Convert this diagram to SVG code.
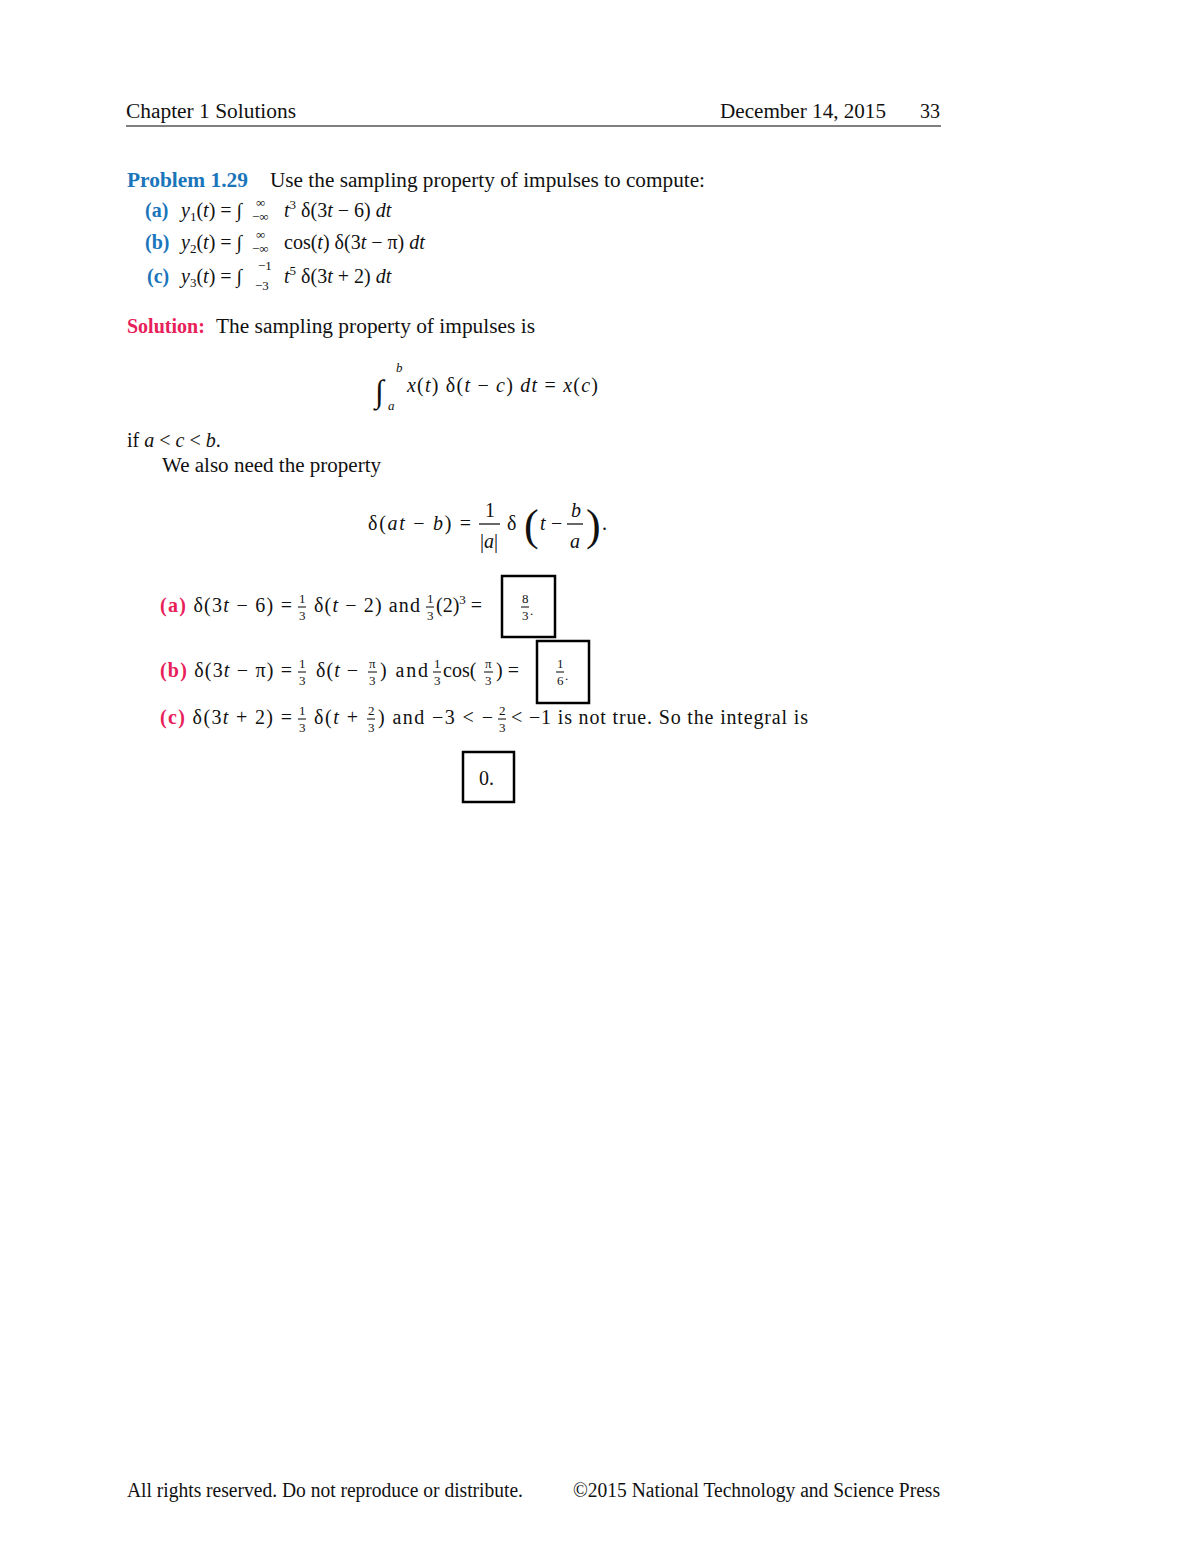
<svg xmlns="http://www.w3.org/2000/svg" width="1200" height="1553" viewBox="0 0 1200 1553">
<style>
text{font-family:"Liberation Serif","DejaVu Serif",serif;font-size:20px;fill:#111}
.b{fill:#1a75bb;font-weight:bold}
.r{fill:#e8205a;font-weight:bold}
.i{font-style:italic}
.s{font-size:13px}
.box{fill:none;stroke:#000;stroke-width:2.5}
.f{stroke:#000;stroke-width:1}
</style>
<rect width="1200" height="1553" fill="#fff"/>
<text x="126" y="118" textLength="170" lengthAdjust="spacingAndGlyphs">Chapter 1 Solutions</text>
<text x="720" y="118" textLength="166" lengthAdjust="spacingAndGlyphs">December 14, 2015</text>
<text x="920" y="118">33</text>
<line x1="126" y1="126" x2="941" y2="126" stroke="#000" stroke-width="1.2"/>

<text x="127" y="187" class="b" textLength="121" lengthAdjust="spacingAndGlyphs">Problem 1.29</text>
<text x="270" y="187" textLength="435" lengthAdjust="spacingAndGlyphs">Use the sampling property of impulses to compute:</text>

<text x="145" y="217" class="b">(a)</text>
<text x="181" y="217"><tspan class="i">y</tspan><tspan class="s" dy="4">1</tspan><tspan dy="-4">(</tspan><tspan class="i">t</tspan><tspan>) = ∫</tspan></text>
<text x="252" y="221" class="s">−∞</text><text x="256" y="207" class="s">∞</text>
<text x="284" y="217"><tspan class="i">t</tspan><tspan class="s" dy="-8">3</tspan><tspan dy="8"> δ(3</tspan><tspan class="i">t</tspan><tspan> − 6) </tspan><tspan class="i">dt</tspan></text>

<text x="145" y="249" class="b">(b)</text>
<text x="181" y="249"><tspan class="i">y</tspan><tspan class="s" dy="4">2</tspan><tspan dy="-4">(</tspan><tspan class="i">t</tspan><tspan>) = ∫</tspan></text>
<text x="252" y="253" class="s">−∞</text><text x="256" y="239" class="s">∞</text>
<text x="284" y="249">cos(<tspan class="i">t</tspan>) δ(3<tspan class="i">t</tspan> − π) <tspan class="i">dt</tspan></text>

<text x="147" y="283" class="b">(c)</text>
<text x="181" y="283"><tspan class="i">y</tspan><tspan class="s" dy="4">3</tspan><tspan dy="-4">(</tspan><tspan class="i">t</tspan><tspan>) = ∫</tspan></text>
<text x="255" y="290" class="s">−3</text><text x="258" y="270" class="s">−1</text>
<text x="284" y="283"><tspan class="i">t</tspan><tspan class="s" dy="-8">5</tspan><tspan dy="8"> δ(3</tspan><tspan class="i">t</tspan><tspan> + 2) </tspan><tspan class="i">dt</tspan></text>

<text x="127" y="333" class="r">Solution:</text>
<text x="216" y="333" textLength="319" lengthAdjust="spacingAndGlyphs">The sampling property of impulses is</text>

<text x="375" y="402" style="font-size:32px">∫</text>
<text x="396" y="372" class="s i">b</text>
<text x="388" y="410" class="s i">a</text>
<text x="407" y="392" textLength="191" lengthAdjust="spacing"><tspan class="i">x</tspan>(<tspan class="i">t</tspan>) δ(<tspan class="i">t</tspan> − <tspan class="i">c</tspan>) <tspan class="i">dt</tspan> = <tspan class="i">x</tspan>(<tspan class="i">c</tspan>)</text>

<text x="127" y="447">if <tspan class="i">a</tspan> &lt; <tspan class="i">c</tspan> &lt; <tspan class="i">b</tspan>.</text>
<text x="162" y="472" textLength="219" lengthAdjust="spacingAndGlyphs">We also need the property</text>

<text x="368" y="530" textLength="103" lengthAdjust="spacing">δ(<tspan class="i">at</tspan> − <tspan class="i">b</tspan>) =</text>
<text x="485" y="517">1</text>
<line x1="479" y1="524" x2="500" y2="524" stroke="#000" stroke-width="1.2"/>
<text x="480" y="548">|<tspan class="i">a</tspan>|</text>
<text x="507" y="530">δ</text>
<text x="524" y="540" style="font-size:44px">(</text>
<text x="540" y="530" class="i">t</text>
<text x="551" y="530">−</text>
<text x="571" y="517" class="i">b</text>
<line x1="567" y1="524" x2="583" y2="524" stroke="#000" stroke-width="1.2"/>
<text x="570" y="548" class="i">a</text>
<text x="586" y="540" style="font-size:44px">)</text>
<text x="602" y="530">.</text>

<text x="160" y="612" textLength="132" lengthAdjust="spacing"><tspan class="r">(a)</tspan> δ(3<tspan class="i">t</tspan> − 6) =</text>
<text x="299" y="603" class="s">1</text><line class="f" x1="298" y1="607" x2="306" y2="607"/><text x="299" y="620" class="s">3</text>
<text x="314" y="612" textLength="106" lengthAdjust="spacing">δ(<tspan class="i">t</tspan> − 2) and</text>
<text x="427" y="603" class="s">1</text><line class="f" x1="426" y1="607" x2="434" y2="607"/><text x="427" y="620" class="s">3</text>
<text x="436" y="612">(2)<tspan class="s" dy="-8">3</tspan><tspan dy="8"> =</tspan></text>
<rect class="box" x="502" y="576" width="53" height="61"/>
<text x="522" y="603" class="s">8</text><line class="f" x1="521" y1="607" x2="529" y2="607"/><text x="522" y="620" class="s">3</text><text x="530" y="615" class="s">.</text>

<text x="160" y="677" textLength="132" lengthAdjust="spacing"><tspan class="r">(b)</tspan> δ(3<tspan class="i">t</tspan> − π) =</text>
<text x="299" y="668" class="s">1</text><line class="f" x1="298" y1="672" x2="306" y2="672"/><text x="299" y="685" class="s">3</text>
<text x="316" y="677" textLength="42" lengthAdjust="spacing">δ(<tspan class="i">t</tspan> −</text>
<text x="369" y="668" class="s">π</text><line class="f" x1="368" y1="672" x2="377" y2="672"/><text x="369" y="685" class="s">3</text>
<text x="380" y="677" textLength="48" lengthAdjust="spacing">) and</text>
<text x="434" y="668" class="s">1</text><line class="f" x1="433" y1="672" x2="441" y2="672"/><text x="434" y="685" class="s">3</text>
<text x="443" y="677">cos(</text>
<text x="485" y="668" class="s">π</text><line class="f" x1="484" y1="672" x2="493" y2="672"/><text x="485" y="685" class="s">3</text>
<text x="496" y="677">) =</text>
<rect class="box" x="537" y="641" width="52" height="62"/>
<text x="557" y="668" class="s">1</text><line class="f" x1="556" y1="672" x2="564" y2="672"/><text x="557" y="685" class="s">6</text><text x="565" y="680" class="s">.</text>

<text x="160" y="724" textLength="132" lengthAdjust="spacing"><tspan class="r">(c)</tspan> δ(3<tspan class="i">t</tspan> + 2) =</text>
<text x="299" y="715" class="s">1</text><line class="f" x1="298" y1="719" x2="306" y2="719"/><text x="299" y="732" class="s">3</text>
<text x="314" y="724" textLength="44" lengthAdjust="spacing">δ(<tspan class="i">t</tspan> +</text>
<text x="368" y="715" class="s">2</text><line class="f" x1="367" y1="719" x2="375" y2="719"/><text x="368" y="732" class="s">3</text>
<text x="378" y="724" textLength="115" lengthAdjust="spacing">) and −3 &lt; −</text>
<text x="499" y="715" class="s">2</text><line class="f" x1="498" y1="719" x2="506" y2="719"/><text x="499" y="732" class="s">3</text>
<text x="511" y="724" textLength="297" lengthAdjust="spacing">&lt; −1 is not true. So the integral is</text>

<rect class="box" x="463" y="752" width="51" height="50"/>
<text x="479" y="785">0.</text>

<text x="127" y="1497" textLength="396" lengthAdjust="spacingAndGlyphs">All rights reserved. Do not reproduce or distribute.</text>
<text x="573" y="1497" textLength="367" lengthAdjust="spacingAndGlyphs">©2015 National Technology and Science Press</text>
</svg>
